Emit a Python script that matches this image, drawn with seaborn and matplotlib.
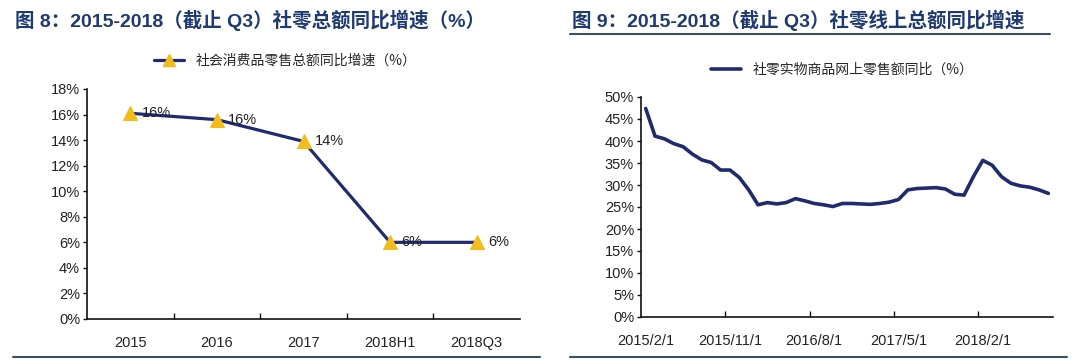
import numpy as np
import pandas as pd
import seaborn as sns
import matplotlib.pyplot as plt
from matplotlib.lines import Line2D
from matplotlib.ticker import PercentFormatter

# left chart: yearly growth of total retail sales
years = ["2015", "2016", "2017", "2018H1", "2018Q3"]
retail_growth = [16.1, 15.6, 13.9, 6.0, 6.0]
retail_labels = ["16%", "16%", "14%", "6%", "6%"]

# right chart: monthly online physical goods sales, 2015/2 .. 2018/9
online_growth = [
    47.4, 41.1, 40.5, 39.4, 38.7, 37.0, 35.7, 35.1, 33.4, 33.4,
    31.7, 28.9, 25.5, 26.0, 25.7, 26.0, 26.9, 26.4, 25.8, 25.5,
    25.1, 25.8, 25.8, 25.7, 25.6, 25.8, 26.1, 26.7, 28.9, 29.2,
    29.3, 29.4, 29.1, 27.9, 27.7, 31.9, 35.6, 34.5, 31.9, 30.4,
    29.8, 29.5, 28.9, 28.1,
]
online_ticklabels = ["2015/2/1", "2015/11/1", "2016/8/1", "2017/5/1", "2018/2/1"]

navy = "#1f2b6e"
gold = "#f2bc1b"
title_color = "#1f3a72"

sns.set_theme(style="white")
plt.rcParams["font.family"] = ["Liberation Sans", "Noto Sans CJK SC", "DejaVu Sans"]

W, H = 1080, 363
fig = plt.figure(figsize=(W / 100, H / 100), dpi=100)


def px_axes(x0, x1, y_top, y_bot):
    return fig.add_axes([x0 / W, 1 - y_bot / H, (x1 - x0) / W, (y_bot - y_top) / H])


def style_axes(ax):
    for side in ["top", "right"]:
        ax.spines[side].set_visible(False)
    for side in ["left", "bottom"]:
        ax.spines[side].set_color("#111111")
        ax.spines[side].set_linewidth(1.2)
    ax.tick_params(axis="y", which="major", left=True, length=3, width=1,
                   color="#111111", labelsize=10.5, labelcolor="#222222", pad=2)
    ax.tick_params(axis="x", which="major", bottom=False, labelsize=10.5,
                   labelcolor="#222222", pad=6)
    ax.tick_params(axis="x", which="minor", bottom=True, direction="in",
                   length=4, width=1, color="#111111")
    ax.set_xlabel("")
    ax.set_ylabel("")


# ---------- left chart ----------
df_left = pd.DataFrame({"pos": np.arange(len(years)), "val": retail_growth})
ax1 = px_axes(87, 520, 89, 319)
sns.lineplot(data=df_left, x="pos", y="val", ax=ax1, color=navy, linewidth=2.3,
             marker="^", markersize=10, markerfacecolor=gold, markeredgecolor=gold,
             legend=False)
ax1.set_xlim(-0.5, len(years) - 0.5)
ax1.set_ylim(0, 18)
ax1.set_yticks(np.arange(0, 19, 2))
ax1.yaxis.set_major_formatter(PercentFormatter(decimals=0))
ax1.set_xticks(np.arange(len(years)))
ax1.set_xticklabels(years)
ax1.set_xticks(np.arange(0.5, len(years) - 1, 1), minor=True)
style_axes(ax1)
for x, y, lab in zip(df_left["pos"], retail_growth, retail_labels):
    ax1.annotate(lab, (x, y), xytext=(8, 0), textcoords="offset points",
                 ha="left", va="center", fontsize=10.5, color="#222222")

leg1 = [Line2D([0], [0], color=navy, linewidth=2.3, marker="^", markersize=8,
               markerfacecolor=gold, markeredgecolor=gold)]
fig.legend(leg1, ["社会消费品零售总额同比增速（%）"], loc="center",
           bbox_to_anchor=(285 / W, 1 - 61 / H), frameon=False, handlelength=2.2,
           prop={"family": ["Noto Sans CJK SC"], "size": 10})

# ---------- right chart ----------
df_right = pd.DataFrame({"pos": np.arange(len(online_growth)), "val": online_growth})
ax2 = px_axes(641, 1053, 97, 317)
sns.lineplot(data=df_right, x="pos", y="val", ax=ax2, color=navy, linewidth=2.6,
             legend=False)
ax2.set_xlim(-0.5, len(online_growth) - 0.5)
ax2.set_ylim(0, 50)
ax2.set_yticks(np.arange(0, 51, 5))
ax2.yaxis.set_major_formatter(PercentFormatter(decimals=0))
ax2.set_xticks(np.arange(0, len(online_growth), 9))
ax2.set_xticklabels(online_ticklabels)
ax2.set_xticks(np.arange(8.5, len(online_growth) - 1, 9), minor=True)
style_axes(ax2)

leg2 = [Line2D([0], [0], color=navy, linewidth=2.6)]
fig.legend(leg2, ["社零实物商品网上零售额同比（%）"], loc="center",
           bbox_to_anchor=(842 / W, 1 - 70 / H), frameon=False, handlelength=2.2,
           prop={"family": ["Noto Sans CJK SC"], "size": 10})

# ---------- titles and rules ----------
fig.text(15 / W, 1 - 20 / H, "图 8：2015-2018（截止 Q3）社零总额同比增速（%）",
         ha="left", va="center", fontsize=14, fontweight="bold", color=title_color,
         family=["Liberation Sans", "Noto Sans CJK SC"])
fig.text(572 / W, 1 - 20 / H, "图 9：2015-2018（截止 Q3）社零线上总额同比增速",
         ha="left", va="center", fontsize=14, fontweight="bold", color=title_color,
         family=["Liberation Sans", "Noto Sans CJK SC"])
fig.add_artist(Line2D([570 / W, 1050 / W], [1 - 34 / H, 1 - 34 / H],
                      color="#3d4f5f", linewidth=1.5))
fig.add_artist(Line2D([13 / W, 540 / W], [1 - 357 / H, 1 - 357 / H],
                      color="#3d4f5f", linewidth=1.5))
fig.add_artist(Line2D([570 / W, 1067 / W], [1 - 357 / H, 1 - 357 / H],
                      color="#3d4f5f", linewidth=1.5))

fig.savefig("out.png", dpi=100)
